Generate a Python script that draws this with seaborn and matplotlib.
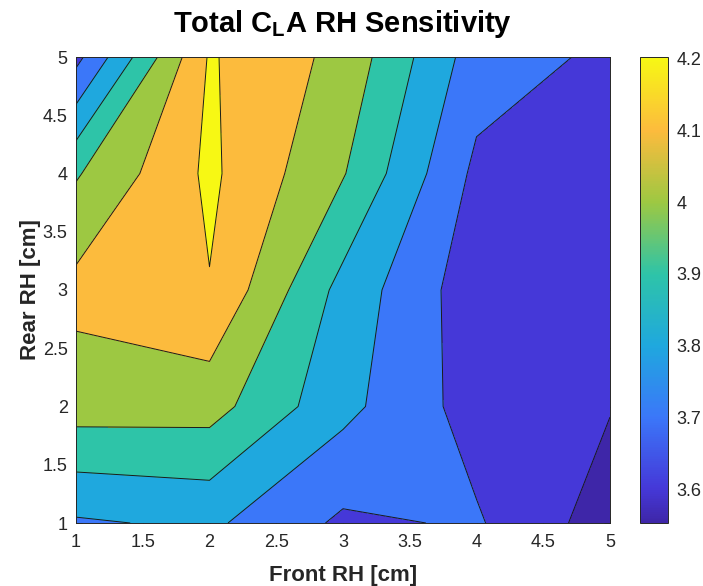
import numpy as np
import matplotlib
matplotlib.use("Agg")
import matplotlib.pyplot as plt
import seaborn as sns
from matplotlib.colors import LinearSegmentedColormap, Normalize
from matplotlib.cm import ScalarMappable

# ---------------- data ----------------
front_rh = [1, 2, 3, 4, 5]          # cm
rear_rh = [1, 2, 3, 4, 5]           # cm
# Total CLA, one row per rear ride height, columns follow front_rh
cla_rear_1 = [3.787, 3.819, 3.682, 3.711, 3.550]
cla_rear_2 = [4.045, 4.040, 3.829, 3.657, 3.605]
cla_rear_3 = [4.130, 4.195, 3.866, 3.640, 3.620]
cla_rear_4 = [3.990, 4.220, 4.007, 3.677, 3.640]
cla_rear_5 = [3.670, 4.210, 4.070, 3.750, 3.680]
contour_levels = [3.6, 3.7, 3.8, 3.9, 4.0, 4.1, 4.2]
tick_vals = [1, 1.5, 2, 2.5, 3, 3.5, 4, 4.5, 5]

# ---------------- style ----------------
sns.set_theme(style="white")
plt.rcParams['font.family'] = ['Liberation Sans', 'DejaVu Sans']
plt.rcParams['mathtext.fontset'] = 'custom'
plt.rcParams['mathtext.rm'] = 'Liberation Sans'
plt.rcParams['mathtext.bf'] = 'Liberation Sans:bold'

band_colors = ['#3e26a8', '#4538d8', '#3b77f9', '#1fa8de', '#2ec4a8',
               '#9dc842', '#fcbb3d', '#f7f814']
vmin, vmax = 3.553, 4.202

Z = np.array([cla_rear_1, cla_rear_2, cla_rear_3, cla_rear_4, cla_rear_5])
X, Y = np.meshgrid(front_rh, rear_rh)

fill_levels = [Z.min() - 0.1] + contour_levels + [Z.max() + 0.1]

anchor_vals = [vmin] + contour_levels
anchor_pos = [(v - vmin) / (vmax - vmin) for v in anchor_vals]
anchor_pos[-1] = 1.0
cmap = LinearSegmentedColormap.from_list("parula_like", list(zip(anchor_pos, band_colors)))

fig = plt.figure(figsize=(7.03, 5.86), dpi=100)
ax = fig.add_axes([76 / 703, 1 - 523 / 586, 534 / 703, 466 / 586])
cax = fig.add_axes([640 / 703, 1 - 523 / 586, 28 / 703, 466 / 586])

ax.contourf(X, Y, Z, levels=fill_levels, colors=band_colors)
ax.contour(X, Y, Z, levels=contour_levels, colors='k', linewidths=0.7)

ax.set_xlim(1, 5)
ax.set_ylim(1, 5)
ax.set_xticks(tick_vals)
ax.set_yticks(tick_vals)
ax.set_xticklabels([f"{t:g}" for t in tick_vals])
ax.set_yticklabels([f"{t:g}" for t in tick_vals])
ax.tick_params(direction='in', length=4, width=0.6, top=True, right=True,
               bottom=True, left=True, labelsize=13, colors='#262626',
               labelcolor='#262626')
ax.tick_params(axis='x', pad=8)
ax.tick_params(axis='y', pad=6)
for s in ax.spines.values():
    s.set_color('#262626')
    s.set_linewidth(0.7)

ax.set_xlabel("Front RH [cm]", fontsize=16, fontweight='bold', color='#262626', labelpad=10)
ax.set_ylabel("Rear RH [cm]", fontsize=16, fontweight='bold', color='#262626', labelpad=1)
ax.set_title(r"Total C$_{\mathbf{L}}$A RH Sensitivity", fontsize=21,
             fontweight='bold', color='black', pad=18)

cb = fig.colorbar(ScalarMappable(norm=Normalize(vmin, vmax), cmap=cmap), cax=cax,
                  ticks=contour_levels)
cb.ax.set_yticklabels([f"{v:g}" for v in contour_levels])
cb.ax.tick_params(direction='in', length=4, width=0.6, labelsize=13,
                  colors='#262626', labelcolor='#262626', right=True, pad=6)
cb.outline.set_edgecolor('#262626')
cb.outline.set_linewidth(0.7)

fig.savefig("out.png", dpi=100)
